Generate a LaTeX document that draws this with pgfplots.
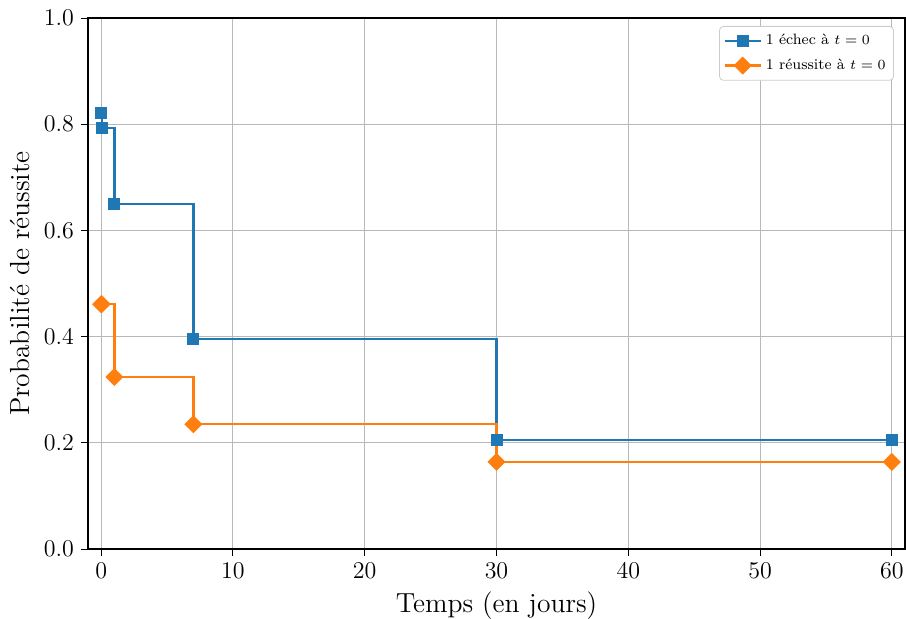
\documentclass[border=0pt]{standalone}
\usepackage{pgfplots}
\pgfplotsset{compat=1.18}
\definecolor{mplblue}{HTML}{1F77B4}
\definecolor{mplorange}{HTML}{FF7F0E}
\begin{document}
\begin{tikzpicture}
\begin{axis}[
  scale only axis, width=408.5pt, height=265.5pt,
  xmin=-1, xmax=61, ymin=0, ymax=1,
  xtick={0,10,20,30,40,50,60},
  ytick={0,0.2,0.4,0.6,0.8,1.0},
  yticklabel style={/pgf/number format/.cd,fixed,fixed zerofill,precision=1},
  grid=major, grid style={color=black!28, line width=0.5pt},
  tick align=outside, tick pos=left, major tick length=3.5pt,
  every tick/.style={black, line width=0.5pt},
  axis line style={line width=0.6pt},
  ticklabel style={font=\fontsize{12.7}{14}\selectfont},
  xlabel={Temps (en jours)}, ylabel={Probabilité de réussite},
  label style={font=\fontsize{13.8}{16}\selectfont},
  legend style={at={(0.9865,0.985)}, anchor=north east, font=\fontsize{7.5}{9}\selectfont,
    draw=black!20, rounded corners=2pt, inner xsep=2pt, inner ysep=2pt, row sep=1.5pt},
  legend cell align=left,
  legend image code/.code={%
    \draw[sharp plot, mark repeat=2, mark phase=2] plot coordinates {(0pt,0pt)(9pt,0pt)(18pt,0pt)};},
]
\addplot[mplblue, line width=1.2pt, const plot mark left, mark=square*, mark size=2.4pt, mark options={solid}]
  coordinates {(0,0.821)(0.04,0.793)(1,0.650)(7,0.395)(30,0.205)(60,0.205)};
\addlegendentry{1 échec à $t=0$}
\addplot[mplorange, line width=1.2pt, const plot mark left, mark=square*, mark size=2.6pt, mark options={solid, rotate=45}]
  coordinates {(0,0.461)(0.04,0.461)(1,0.324)(7,0.235)(30,0.164)(60,0.164)};
\addlegendentry{1 réussite à $t=0$}
\end{axis}
\pgfresetboundingbox
\path ([shift={(-44pt,-34.5pt)}]current axis.south west) rectangle ([shift={(0.5pt,9pt)}]current axis.north east);
\end{tikzpicture}
\end{document}
